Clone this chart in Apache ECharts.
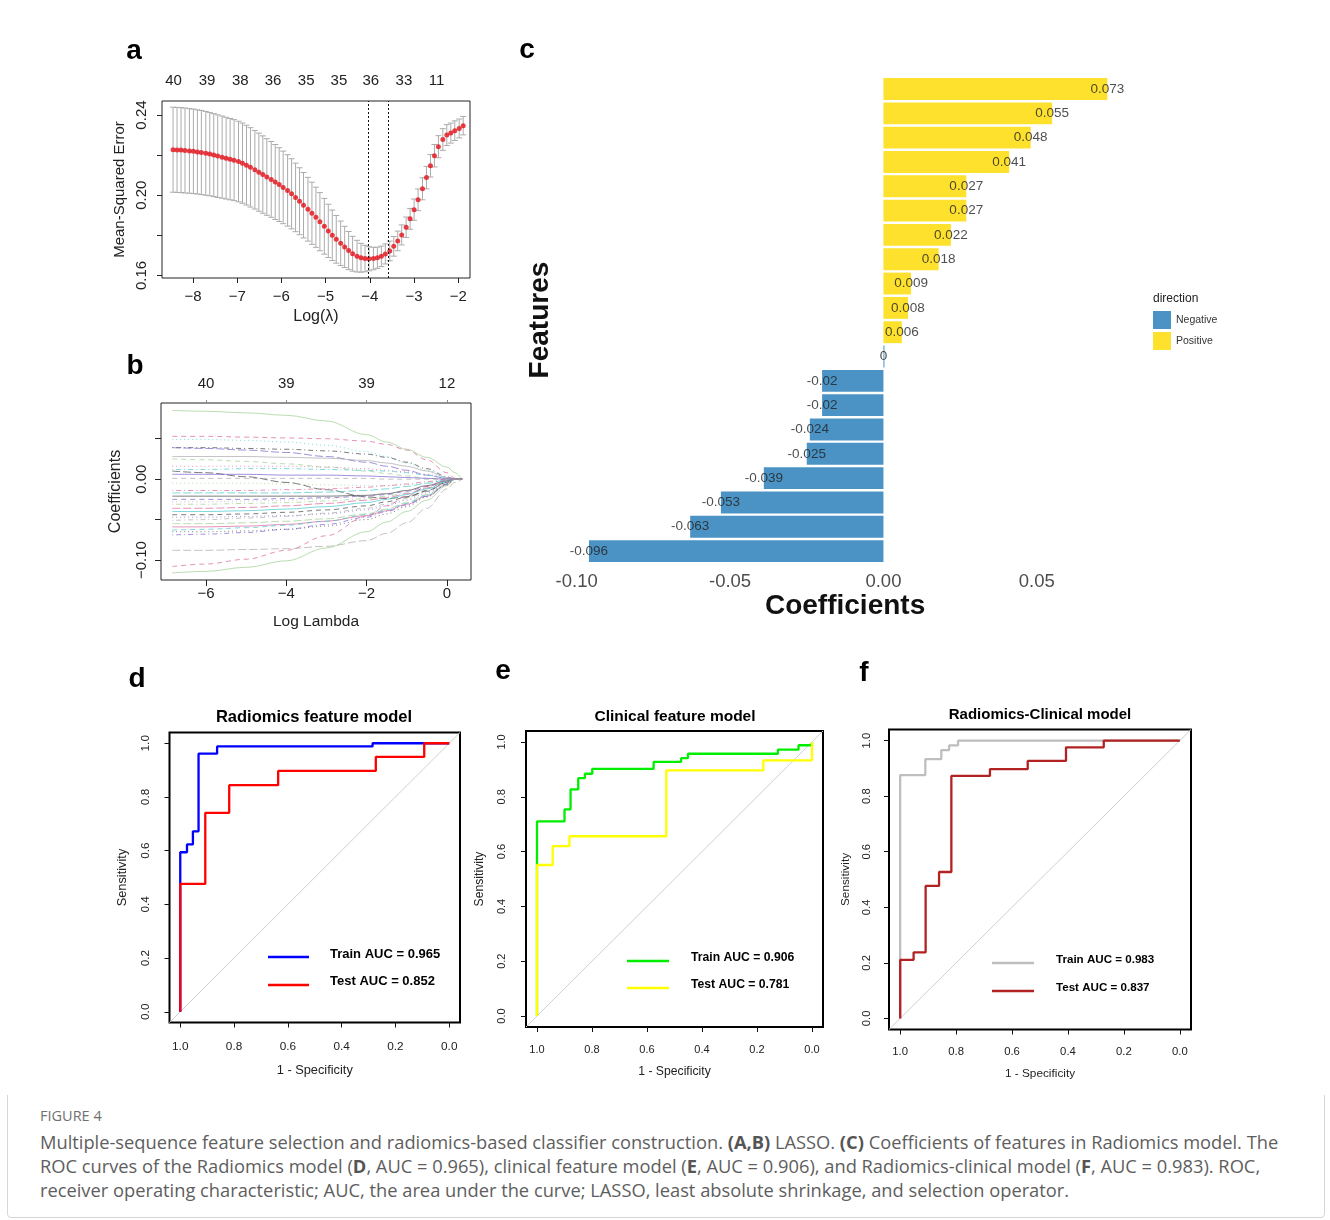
<!DOCTYPE html>
<html>
<head>
<meta charset="utf-8">
<script src="https://cdn.jsdelivr.net/npm/echarts@6/dist/echarts.min.js"></script>
<style>
  body { margin: 0; background: #fff; }
  #frame { position: absolute; left: 7px; top: 7px; width: 1316px; height: 1209px; border: 1px solid #d6d6d6; border-radius: 4px; }
  #chart { position: absolute; left: 0; top: 0; width: 1330px; height: 1095px; }
  #caption { position: absolute; left: 40px; top: 1104px; font-family: 'Open Sans', Lato, sans-serif; color: #5e5e5e; white-space: nowrap; }
  #caption .fig { font-size: 14.5px; line-height: 24px; color: #707070; margin-bottom: 2px; }
  #caption .txt { font-size: 18.3px; line-height: 24px; }
  #caption b { color: #555; }
</style>
</head>
<body>
<div id="frame"></div>
<div id="chart"></div>
<div id="caption">
  <div class="fig">FIGURE 4</div>
  <div class="txt">Multiple-sequence feature selection and radiomics-based classifier construction. <b>(A,B)</b> LASSO. <b>(C)</b> Coefficients of features in Radiomics model. The<br>ROC curves of the Radiomics model (<b>D</b>, AUC = 0.965), clinical feature model (<b>E</b>, AUC = 0.906), and Radiomics-clinical model (<b>F</b>, AUC = 0.983). ROC,<br>receiver operating characteristic; AUC, the area under the curve; LASSO, least absolute shrinkage, and selection operator.</div>
</div>
<script>
// ---- a: cross-validated MSE along the lambda path ----
const lassoLogLambda = [
  -8.45, -8.36, -8.27, -8.18, -8.08, -7.99, -7.90, -7.81, -7.71, -7.62,
  -7.53, -7.44, -7.34, -7.25, -7.16, -7.07, -6.97, -6.88, -6.79, -6.70,
  -6.60, -6.51, -6.42, -6.33, -6.23, -6.14, -6.05, -5.96, -5.86, -5.77,
  -5.68, -5.59, -5.50, -5.40, -5.31, -5.22, -5.13, -5.03, -4.94, -4.85,
  -4.76, -4.66, -4.57, -4.48, -4.39, -4.29, -4.20, -4.11, -4.02, -3.92,
  -3.83, -3.74, -3.65, -3.55, -3.46, -3.37, -3.28, -3.18, -3.09, -3.00,
  -2.91, -2.81, -2.72, -2.63, -2.54, -2.45, -2.35, -2.26, -2.17, -2.08,
  -1.98, -1.89
]
const lassoMse = [
  0.2227, 0.2226, 0.2225, 0.2223, 0.2221, 0.2219, 0.2216, 0.2213, 0.2209, 0.2205,
  0.2200, 0.2195, 0.2190, 0.2185, 0.2180, 0.2175, 0.2168, 0.2160, 0.2150, 0.2139,
  0.2127, 0.2115, 0.2103, 0.2091, 0.2079, 0.2066, 0.2053, 0.2039, 0.2024, 0.2007,
  0.1989, 0.1970, 0.1950, 0.1930, 0.1910, 0.1890, 0.1868, 0.1845, 0.1822, 0.1800,
  0.1780, 0.1760, 0.1742, 0.1724, 0.1708, 0.1696, 0.1688, 0.1684, 0.1683, 0.1684,
  0.1688, 0.1695, 0.1707, 0.1722, 0.1745, 0.1772, 0.1802, 0.1840, 0.1882, 0.1928,
  0.1977, 0.2032, 0.2088, 0.2147, 0.2197, 0.2242, 0.2278, 0.2300, 0.2310, 0.2322,
  0.2333, 0.2347
]
const lassoSe = [
  0.0212, 0.0212, 0.0212, 0.0212, 0.0211, 0.0211, 0.0210, 0.0210, 0.0209, 0.0208,
  0.0207, 0.0206, 0.0205, 0.0204, 0.0203, 0.0202, 0.0201, 0.0200, 0.0199, 0.0198,
  0.0196, 0.0195, 0.0193, 0.0191, 0.0189, 0.0187, 0.0184, 0.0181, 0.0178, 0.0175,
  0.0171, 0.0167, 0.0163, 0.0159, 0.0155, 0.0150, 0.0145, 0.0139, 0.0133, 0.0126,
  0.0119, 0.0111, 0.0103, 0.0095, 0.0087, 0.0079, 0.0072, 0.0066, 0.0060, 0.0056,
  0.0053, 0.0051, 0.0050, 0.0049, 0.0049, 0.0049, 0.0050, 0.0051, 0.0052, 0.0053,
  0.0054, 0.0055, 0.0056, 0.0056, 0.0056, 0.0055, 0.0054, 0.0052, 0.0050, 0.0049,
  0.0047, 0.0046
]
const lambdaMin = -4.03
const lambda1se = -3.58
const lassoTopAt = [-8.44, -7.68, -6.93, -6.19, -5.44, -4.70, -3.98, -3.23, -2.49]
const lassoTopLabels = ['40', '39', '38', '36', '35', '35', '36', '33', '11']

// ---- b: coefficient paths ----
const pathLogLambda = [-6.84, -6, -5, -4, -3, -2, -1.5, -1, -0.5, 0, 0.2, 0.38]
const coefPaths = [
  [0.085, 0.084, 0.082, 0.079, 0.072, 0.055, 0.046, 0.037, 0.027, 0.015, 0.008, 0],
  [0.053, 0.053, 0.052, 0.051, 0.050, 0.047, 0.043, 0.036, 0.024, 0.008, 0.001, 0],
  [0.049, 0.049, 0.048, 0.046, 0.042, 0.034, 0.028, 0.020, 0.011, 0.002, 0, 0],
  [0.039, 0.039, 0.038, 0.037, 0.035, 0.031, 0.027, 0.021, 0.013, 0.003, 0, 0],
  [0.039, 0.038, 0.036, 0.033, 0.028, 0.021, 0.016, 0.011, 0.005, 0.001, 0, 0],
  [0.028, 0.028, 0.028, 0.027, 0.026, 0.023, 0.020, 0.016, 0.010, 0.002, 0, 0],
  [0.025, 0.024, 0.022, 0.019, 0.015, 0.010, 0.007, 0.004, 0.001, 0, 0, 0],
  [0.016, 0.016, 0.016, 0.016, 0.015, 0.013, 0.011, 0.009, 0.006, 0.001, 0, 0],
  [0.012, 0.012, 0.013, 0.013, 0.012, 0.011, 0.010, 0.008, 0.005, 0.001, 0, 0],
  [0.010, 0.008, 0.003, -0.004, -0.013, -0.022, -0.024, -0.022, -0.015, -0.004, 0, 0],
  [0.006, 0.006, 0.006, 0.005, 0.005, 0.004, 0.003, 0.002, 0.001, 0, 0, 0],
  [0.001, 0.001, 0.001, 0.001, 0.001, 0.001, 0, 0, 0, 0, 0, 0],
  [-0.005, -0.005, -0.005, -0.006, -0.007, -0.008, -0.008, -0.007, -0.005, -0.001, 0, 0],
  [-0.014, -0.014, -0.014, -0.013, -0.012, -0.010, -0.008, -0.006, -0.003, 0, 0, 0],
  [-0.017, -0.017, -0.017, -0.017, -0.016, -0.014, -0.012, -0.009, -0.005, -0.001, 0, 0],
  [-0.021, -0.021, -0.021, -0.021, -0.021, -0.020, -0.018, -0.014, -0.008, -0.002, 0, 0],
  [-0.025, -0.025, -0.025, -0.024, -0.023, -0.021, -0.019, -0.015, -0.009, -0.002, 0, 0],
  [-0.028, -0.028, -0.027, -0.026, -0.024, -0.021, -0.018, -0.014, -0.009, -0.002, 0, 0],
  [-0.031, -0.031, -0.030, -0.029, -0.027, -0.024, -0.021, -0.017, -0.011, -0.003, 0, 0],
  [-0.036, -0.036, -0.035, -0.033, -0.030, -0.026, -0.023, -0.018, -0.011, -0.003, 0, 0],
  [-0.040, -0.040, -0.039, -0.037, -0.034, -0.029, -0.025, -0.019, -0.012, -0.003, 0, 0],
  [-0.044, -0.044, -0.043, -0.041, -0.038, -0.033, -0.028, -0.022, -0.014, -0.004, 0, 0],
  [-0.047, -0.047, -0.046, -0.045, -0.043, -0.038, -0.033, -0.026, -0.017, -0.005, 0, 0],
  [-0.051, -0.050, -0.048, -0.046, -0.042, -0.036, -0.031, -0.024, -0.015, -0.004, 0, 0],
  [-0.055, -0.055, -0.054, -0.052, -0.049, -0.043, -0.037, -0.029, -0.019, -0.006, 0, 0],
  [-0.059, -0.059, -0.058, -0.056, -0.052, -0.045, -0.039, -0.031, -0.021, -0.007, 0, 0],
  [-0.063, -0.062, -0.060, -0.057, -0.052, -0.044, -0.038, -0.030, -0.020, -0.006, 0, 0],
  [-0.065, -0.065, -0.064, -0.062, -0.058, -0.050, -0.043, -0.034, -0.022, -0.007, 0, 0],
  [-0.069, -0.068, -0.066, -0.062, -0.056, -0.047, -0.040, -0.032, -0.021, -0.006, 0, 0],
  [-0.088, -0.088, -0.087, -0.086, -0.083, -0.076, -0.067, -0.054, -0.036, -0.012, -0.004, 0],
  [-0.116, -0.114, -0.109, -0.101, -0.085, -0.065, -0.053, -0.040, -0.026, -0.008, 0, 0],
  [-0.108, -0.105, -0.099, -0.088, -0.070, -0.046, -0.033, -0.021, -0.009, -0.001, 0, 0]
]
const pathTopAt = [-6, -4, -2, 0]
const pathTopLabels = ['40', '39', '39', '12']

// ---- c: model coefficients ----
const featureCoefs = [0.073, 0.055, 0.048, 0.041, 0.027, 0.027, 0.022, 0.018, 0.009, 0.008, 0.006, 0,
  -0.02, -0.02, -0.024, -0.025, -0.039, -0.053, -0.063, -0.096]
const featureNames = featureCoefs.map((_, i) => 'Feature ' + (i + 1)) // names are blurred in the figure

// ---- d/e/f: ROC curves (specificity, sensitivity) ----
const rocDTrainSpec = [1, 1, 0.975, 0.975, 0.953, 0.953, 0.932, 0.932, 0.863, 0.863, 0.285, 0.285, 0]
const rocDTrainSens = [0, 0.594, 0.594, 0.623, 0.623, 0.672, 0.672, 0.961, 0.961, 0.988, 0.988, 1, 1]
const rocDTestSpec = [1, 1, 0.907, 0.907, 0.818, 0.818, 0.636, 0.636, 0.273, 0.273, 0.093, 0.093, 0]
const rocDTestSens = [0, 0.476, 0.476, 0.741, 0.741, 0.844, 0.844, 0.897, 0.897, 0.949, 0.949, 1, 1]

const rocETrainSpec = [1, 1, 0.90, 0.90, 0.878, 0.878, 0.85, 0.85, 0.826, 0.826, 0.799, 0.799,
  0.576, 0.576, 0.476, 0.476, 0.451, 0.451, 0.124, 0.124, 0.049, 0.049, 0, 0]
const rocETrainSens = [0, 0.71, 0.71, 0.754, 0.754, 0.827, 0.827, 0.868, 0.868, 0.884, 0.884, 0.902,
  0.902, 0.927, 0.927, 0.941, 0.941, 0.957, 0.957, 0.972, 0.972, 0.988, 0.988, 1]
const rocETestSpec = [1, 1, 0.943, 0.943, 0.882, 0.882, 0.530, 0.530, 0.177, 0.177, 0, 0]
const rocETestSens = [0, 0.551, 0.551, 0.62, 0.62, 0.656, 0.656, 0.896, 0.896, 0.933, 0.933, 1]

const rocFTrainSpec = [1, 1, 0.910, 0.910, 0.853, 0.853, 0.825, 0.825, 0.793, 0.793, 0]
const rocFTrainSens = [0, 0.876, 0.876, 0.933, 0.933, 0.966, 0.966, 0.983, 0.983, 1, 1]
const rocFTestSpec = [1, 1, 0.952, 0.952, 0.909, 0.909, 0.861, 0.861, 0.817, 0.817, 0.679, 0.679,
  0.544, 0.544, 0.407, 0.407, 0.272, 0.272, 0]
const rocFTestSens = [0, 0.211, 0.211, 0.238, 0.238, 0.477, 0.477, 0.527, 0.527, 0.873, 0.873, 0.897,
  0.897, 0.927, 0.927, 0.976, 0.976, 1, 1]

const rocTicks = [0, 0.2, 0.4, 0.6, 0.8, 1]
const rocMin = -0.04
const rocMax = 1.04

const FONT = '"Liberation Sans", Arial, sans-serif'
const INK = '#222'
const rMinus = v => String(v).replace('-', '\u2212')

function nearestLabel (ats, labels) {
  return v => {
    let k = 0
    ats.forEach((a, i) => { if (Math.abs(a - v) < Math.abs(ats[k] - v)) k = i })
    return labels[k]
  }
}

const chart = echarts.init(document.getElementById('chart'))

const grids = [
  { left: 162, top: 101, width: 308, height: 177, show: true, borderColor: '#222', borderWidth: 1 },   // a
  { left: 161, top: 403, width: 310, height: 177, show: true, borderColor: '#222', borderWidth: 1 },   // b
  { left: 576.7, top: 76.85, width: 536.8, height: 486.4, show: false },                               // c
  { left: 169.5, top: 732.5, width: 290.5, height: 290, show: true, borderColor: '#000', borderWidth: 2 }, // d
  { left: 526, top: 731, width: 297, height: 296, show: true, borderColor: '#000', borderWidth: 2 },      // e
  { left: 889, top: 729.5, width: 302, height: 300, show: true, borderColor: '#000', borderWidth: 2 }     // f
]

// ROC panel layout (d, e, f)
const rocPanels = [
  {
    title: 'Radiomics feature model', tx: 314, ty: 717.5, tSize: 16.5, tick: 11.8, nameSize: 12.8,
    xMargin: 18, yMargin: 17.5, xGap: 41, yGap: 41,
    lx: [268, 309], ly: [957, 985], textX: 330, textY: [954, 981], legSize: 13,
    train: { spec: rocDTrainSpec, sens: rocDTrainSens, color: '#0000ff', name: 'Train AUC = 0.965' },
    test: { spec: rocDTestSpec, sens: rocDTestSens, color: '#ff0000', name: 'Test AUC = 0.852' }
  },
  {
    title: 'Clinical feature model', tx: 675, ty: 716.5, tSize: 15.5, tick: 11, nameSize: 12.2,
    xMargin: 17.5, yMargin: 18.5, xGap: 39, yGap: 40,
    lx: [627, 669], ly: [961, 988], textX: 691, textY: [957.5, 985], legSize: 12.2,
    train: { spec: rocETrainSpec, sens: rocETrainSens, color: '#00ee00', name: 'Train AUC = 0.906' },
    test: { spec: rocETestSpec, sens: rocETestSens, color: '#ffff00', name: 'Test AUC = 0.781' }
  },
  {
    title: 'Radiomics-Clinical model', tx: 1040, ty: 715, tSize: 15, tick: 11.3, nameSize: 11.8,
    xMargin: 16.5, yMargin: 16.5, xGap: 38, yGap: 37,
    lx: [992, 1034], ly: [963, 991], textX: 1056, textY: [960, 987.5], legSize: 11.6,
    train: { spec: rocFTrainSpec, sens: rocFTrainSens, color: '#bebebe', name: 'Train AUC = 0.983' },
    test: { spec: rocFTestSpec, sens: rocFTestSens, color: '#b22222', name: 'Test AUC = 0.837' }
  }
]

const xAxes = [
  // a bottom
  {
    gridIndex: 0, type: 'value', min: -8.70, max: -1.736,
    axisLine: { show: false, onZero: false }, splitLine: { show: false },
    axisTick: { show: true, length: 5, lineStyle: { color: INK }, customValues: [-8, -7, -6, -5, -4, -3, -2] },
    axisLabel: { customValues: [-8, -7, -6, -5, -4, -3, -2], margin: 11, fontSize: 15, color: INK, fontFamily: FONT, formatter: rMinus },
    name: 'Log(\u03bb)', nameLocation: 'middle', nameGap: 31, nameTextStyle: { fontSize: 16, color: INK, fontFamily: FONT }
  },
  // a top: number of non-zero coefficients
  {
    gridIndex: 0, type: 'value', position: 'top', min: -8.70, max: -1.736,
    axisLine: { show: false, onZero: false }, axisTick: { show: false }, splitLine: { show: false },
    axisLabel: { customValues: lassoTopAt, margin: 12.5, fontSize: 15, color: INK, fontFamily: FONT, formatter: nearestLabel(lassoTopAt, lassoTopLabels) }
  },
  // b bottom
  {
    gridIndex: 1, type: 'value', min: -7.12, max: 0.60,
    axisLine: { show: false, onZero: false }, splitLine: { show: false },
    axisTick: { show: true, length: 6, lineStyle: { color: INK }, customValues: [-6, -4, -2, 0] },
    axisLabel: { customValues: [-6, -4, -2, 0], margin: 6, fontSize: 15, color: INK, fontFamily: FONT, formatter: rMinus },
    name: 'Log Lambda', nameLocation: 'middle', nameGap: 34, nameTextStyle: { fontSize: 15.5, color: INK, fontFamily: FONT }
  },
  // b top
  {
    gridIndex: 1, type: 'value', position: 'top', min: -7.12, max: 0.60,
    axisLine: { show: false, onZero: false }, splitLine: { show: false },
    axisTick: { show: true, length: 3, lineStyle: { color: '#888' }, customValues: pathTopAt },
    axisLabel: { customValues: pathTopAt, margin: 12, fontSize: 15, color: INK, fontFamily: FONT, formatter: nearestLabel(pathTopAt, pathTopLabels) }
  },
  // c
  {
    gridIndex: 2, type: 'value', min: -0.1, max: 0.075,
    axisLine: { show: false, onZero: false }, axisTick: { show: false }, splitLine: { show: false },
    axisLabel: { customValues: [-0.1, -0.05, 0, 0.05], margin: 9, fontSize: 18.5, color: '#4d4d4d', fontFamily: FONT, formatter: v => v.toFixed(2) },
    name: 'Coefficients', nameLocation: 'middle', nameGap: 29, nameTextStyle: { fontSize: 28, fontWeight: 'bold', color: '#111', fontFamily: FONT }
  }
]

const yAxes = [
  // a
  {
    gridIndex: 0, type: 'value', min: 0.1587, max: 0.247,
    axisLine: { show: false, onZero: false }, splitLine: { show: false },
    axisTick: { show: true, length: 5, lineStyle: { color: INK }, customValues: [0.16, 0.18, 0.2, 0.22, 0.24] },
    axisLabel: { customValues: [0.16, 0.2, 0.24], rotate: 90, margin: 12.5, fontSize: 15, color: INK, fontFamily: FONT, formatter: v => v.toFixed(2) },
    name: 'Mean-Squared Error', nameLocation: 'middle', nameRotate: 90, nameGap: 35, nameTextStyle: { fontSize: 15, color: INK, fontFamily: FONT }
  },
  // b
  {
    gridIndex: 1, type: 'value', min: -0.1247, max: 0.0942,
    axisLine: { show: false, onZero: false }, splitLine: { show: false },
    axisTick: { show: true, length: 6, lineStyle: { color: INK }, customValues: [-0.1, -0.05, 0, 0.05] },
    axisLabel: { customValues: [-0.1, 0], rotate: 90, margin: 12, fontSize: 15, color: INK, fontFamily: FONT, formatter: v => rMinus(v.toFixed(2)) },
    name: 'Coefficients', nameLocation: 'middle', nameRotate: 90, nameGap: 37, nameTextStyle: { fontSize: 16, color: INK, fontFamily: FONT }
  },
  // c
  {
    gridIndex: 2, type: 'category', data: featureNames, inverse: true,
    axisLine: { show: false, onZero: false }, axisTick: { show: false }, axisLabel: { show: false },
    name: 'Features', nameLocation: 'middle', nameRotate: 90, nameGap: 22, nameTextStyle: { fontSize: 28, fontWeight: 'bold', color: '#111', fontFamily: FONT }
  }
]

const series = [
  // a: error bars
  {
    type: 'custom', xAxisIndex: 0, yAxisIndex: 0, silent: true, z: 2,
    data: lassoLogLambda.map((x, i) => [x, lassoMse[i] - lassoSe[i], lassoMse[i] + lassoSe[i]]),
    renderItem: (params, api) => {
      const x = api.value(0)
      const lo = api.coord([x, api.value(1)])
      const hi = api.coord([x, api.value(2)])
      const w = 3
      const style = { stroke: '#ababab', lineWidth: 1 }
      return {
        type: 'group',
        children: [
          { type: 'line', shape: { x1: lo[0], y1: lo[1], x2: hi[0], y2: hi[1] }, style },
          { type: 'line', shape: { x1: hi[0] - w, y1: hi[1], x2: hi[0] + w, y2: hi[1] }, style },
          { type: 'line', shape: { x1: lo[0] - w, y1: lo[1], x2: lo[0] + w, y2: lo[1] }, style }
        ]
      }
    }
  },
  // a: mean MSE points and lambda lines
  {
    type: 'scatter', xAxisIndex: 0, yAxisIndex: 0, silent: true, z: 3,
    data: lassoLogLambda.map((x, i) => [x, lassoMse[i]]),
    symbolSize: 5, itemStyle: { color: '#e3101a' },
    markLine: {
      silent: true, symbol: ['none', 'none'], label: { show: false },
      lineStyle: { color: '#111', type: [2, 2], width: 1 },
      data: [{ xAxis: lambdaMin }, { xAxis: lambda1se }]
    }
  }
]

// b: coefficient paths (faded R palette, cycling line types)
const pathColors = ['#9ccf8f', '#d9649a', '#45c8d0', '#444444', '#7a5fd0', '#a8a8a8']
const pathDashes = ['solid', [5, 4], [1, 3], [1, 3, 5, 3], [8, 3]]
coefPaths.forEach((vals, k) => {
  series.push({
    type: 'line', xAxisIndex: 2, yAxisIndex: 1, silent: true, z: 2,
    data: pathLogLambda.map((x, i) => [x, vals[i]]),
    showSymbol: false, smooth: 0.35, smoothMonotone: 'x',
    lineStyle: { width: 1, color: pathColors[k % 6], type: pathDashes[k % 5], opacity: 0.7 }
  })
})

// c: bars by direction plus value labels
series.push(
  {
    name: 'Negative', type: 'bar', xAxisIndex: 4, yAxisIndex: 2, barWidth: '90%', barGap: '-100%', barMinHeight: 1,
    data: featureCoefs.map(v => v <= 0 ? v : '-'), itemStyle: { color: '#4b93c5' }, silent: true
  },
  {
    name: 'Positive', type: 'bar', xAxisIndex: 4, yAxisIndex: 2, barWidth: '90%', barGap: '-100%',
    data: featureCoefs.map(v => v > 0 ? v : '-'), itemStyle: { color: '#fde12d' }, silent: true
  },
  {
    type: 'scatter', xAxisIndex: 4, yAxisIndex: 2, symbolSize: 0, silent: true, z: 5,
    data: featureCoefs.map((v, i) => [v, featureNames[i]]),
    label: {
      show: true, position: 'inside', fontSize: 13.5, color: '#222', fontFamily: FONT,
      formatter: p => String(p.value[0])
    }
  }
)

const graphics = []
const letter = (t, x, y) => graphics.push({
  type: 'text', x, y, silent: true,
  style: { text: t, font: 'bold 28px ' + FONT, fill: '#000', textAlign: 'center', textVerticalAlign: 'middle' }
})
letter('a', 134, 51)
letter('b', 135, 366)
letter('c', 527, 50)
letter('d', 137, 679.5)
letter('e', 503, 671)
letter('f', 864, 673.5)

graphics.push({
  type: 'text', x: 1153, y: 299, silent: true,
  style: { text: 'direction', font: '12px ' + FONT, fill: '#222', textAlign: 'left', textVerticalAlign: 'middle' }
})

rocPanels.forEach((p, k) => {
  const g = 3 + k
  xAxes.push({
    gridIndex: g, type: 'value', inverse: true, min: rocMin, max: rocMax,
    axisLine: { show: false, onZero: false }, splitLine: { show: false },
    axisTick: { show: true, length: 5, lineStyle: { color: '#111' }, customValues: rocTicks },
    axisLabel: { customValues: rocTicks, margin: p.xMargin, fontSize: p.tick, color: INK, fontFamily: FONT, formatter: v => v.toFixed(1) },
    name: '1 - Specificity', nameLocation: 'middle', nameGap: p.xGap, nameTextStyle: { fontSize: p.nameSize, color: INK, fontFamily: FONT }
  })
  yAxes.push({
    gridIndex: g, type: 'value', min: rocMin, max: rocMax,
    axisLine: { show: false, onZero: false }, splitLine: { show: false },
    axisTick: { show: true, length: 5, lineStyle: { color: '#111' }, customValues: rocTicks },
    axisLabel: { customValues: rocTicks, rotate: 90, margin: p.yMargin, fontSize: p.tick, color: INK, fontFamily: FONT, formatter: v => v.toFixed(1) },
    name: 'Sensitivity', nameLocation: 'middle', nameRotate: 90, nameGap: p.yGap, nameTextStyle: { fontSize: p.nameSize, color: INK, fontFamily: FONT }
  })
  const xi = xAxes.length - 1
  const yi = yAxes.length - 1
  series.push(
    {
      type: 'line', xAxisIndex: xi, yAxisIndex: yi, silent: true, showSymbol: false, z: 1,
      data: [[rocMax, rocMin], [rocMin, rocMax]], lineStyle: { color: '#cfcfcf', width: 1 }
    },
    {
      name: p.train.name, type: 'line', xAxisIndex: xi, yAxisIndex: yi, silent: true, showSymbol: false, z: 2,
      data: p.train.spec.map((s, i) => [s, p.train.sens[i]]), lineStyle: { color: p.train.color, width: 2.3 }
    },
    {
      name: p.test.name, type: 'line', xAxisIndex: xi, yAxisIndex: yi, silent: true, showSymbol: false, z: 3,
      data: p.test.spec.map((s, i) => [s, p.test.sens[i]]), lineStyle: { color: p.test.color, width: 2.3 }
    }
  )
  graphics.push({
    type: 'text', x: p.tx, y: p.ty, silent: true,
    style: { text: p.title, font: 'bold ' + p.tSize + 'px ' + FONT, fill: '#000', textAlign: 'center', textVerticalAlign: 'middle' }
  });
  [p.train, p.test].forEach((c, j) => {
    graphics.push(
      { type: 'line', silent: true, shape: { x1: p.lx[0], y1: p.ly[j], x2: p.lx[1], y2: p.ly[j] }, style: { stroke: c.color, lineWidth: 2.6 } },
      {
        type: 'text', x: p.textX, y: p.textY[j], silent: true,
        style: { text: c.name, font: 'bold ' + p.legSize + 'px ' + FONT, fill: '#000', textAlign: 'left', textVerticalAlign: 'middle' }
      }
    )
  })
})

chart.setOption({
  animation: false,
  backgroundColor: '#fff',
  grid: grids,
  xAxis: xAxes,
  yAxis: yAxes,
  legend: [{
    data: ['Negative', 'Positive'], left: 1153, top: 311, orient: 'vertical', padding: 0,
    itemWidth: 18, itemHeight: 18, itemGap: 3, icon: 'rect', selectedMode: false,
    textStyle: { fontSize: 10.5, color: '#333', fontFamily: FONT }
  }],
  graphic: graphics,
  series
})
</script>
</body>
</html>
